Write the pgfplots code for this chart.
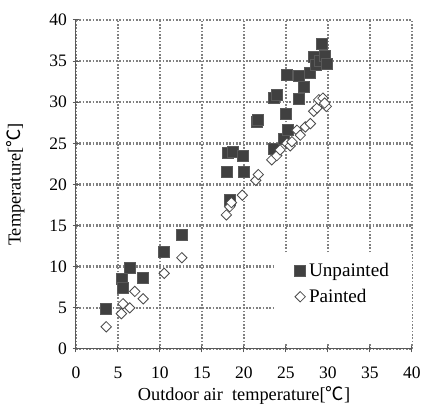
\documentclass[border=0pt]{standalone}
\usepackage{fontspec}
\setmainfont{Liberation Serif}
\newfontfamily\cjk{Noto Sans CJK JP}
\usepackage{pgfplots}
\pgfplotsset{compat=1.18}
\begin{document}
\begin{tikzpicture}
\useasboundingbox (-45.6pt,-33.6pt) rectangle (207pt,209.4pt);
\begin{axis}[
 scale only axis, width=201.6pt, height=197.4pt,
 xmin=0,xmax=40,ymin=0,ymax=40,
 xtick={0,5,...,40}, ytick={0,5,...,40},
 axis x line*=bottom, axis y line*=left,
 axis line style={draw=black!65, line width=0.6pt, -},
 tick align=center, major tick length=4pt,
 tick style={draw=black!65, line width=0.6pt},
 grid=major,
 major grid style={draw=black!50, line width=1.5pt, dash pattern=on 1pt off 1pt},
 ticklabel style={font=\fontsize{10.5}{12}\selectfont},
 xticklabel style={yshift=-5pt},
 /pgf/number format/assume math mode=true,
 xlabel={Outdoor air\ \ temperature[{\cjk ℃}]},
 ylabel={Temperature[{\cjk ℃}]},
 label style={font=\fontsize{11}{13}\selectfont},
 xlabel style={yshift=2pt},
 ylabel style={yshift=8pt},
 legend style={draw=none, fill=none, at={(axis cs:25.4,11.3)}, anchor=north west,
   font=\fontsize{11.5}{13}\selectfont, row sep=2pt},
 legend cell align=left,
 legend image code/.code={\draw[#1] plot coordinates {(0pt,0pt)};},
]
\fill[white] (axis cs:23.7,0.7) rectangle (axis cs:40.3,11.7);
\addplot[only marks, mark=square*, mark size=3.3pt, mark options={fill=black!75, draw=black!65, line width=0.3pt}] coordinates {
(3.6,4.9)(5.4,8.6)(5.6,7.4)(6.4,9.9)(8.0,8.7)(10.5,11.8)(12.6,13.9)
(17.9,21.5)(18.1,23.8)(18.7,24.0)(18.25,18.2)(19.8,23.5)(20.0,21.6)
(21.5,27.6)(21.6,27.9)(23.5,24.3)(23.5,30.5)(23.9,30.9)(24.7,25.6)(25.2,26.6)(25.0,28.6)
(25.1,33.3)(26.5,33.2)(26.5,30.4)(27.1,31.9)(27.8,33.6)(28.3,35.5)(28.6,34.5)(29.0,35.1)(29.6,35.7)(29.8,34.7)(29.25,37.1)
};
\addlegendentry{Unpainted}
\addplot[only marks, mark=square*, mark size=2.2pt, mark options={rotate=45, fill=white, draw=black!70, line width=0.5pt}] coordinates {
(3.6,2.7)(5.4,4.3)(5.6,5.5)(6.4,5.0)(7.0,7.0)(8.0,6.1)(10.5,9.2)(12.6,11.1)
(17.9,16.3)(18.3,17.3)(18.5,17.8)(19.8,18.7)(21.4,20.5)(21.7,21.2)
(23.3,23.0)(23.9,23.5)(24.3,24.2)(25.1,25.0)(25.5,24.7)(25.7,25.2)(26.3,26.6)(26.7,26.0)(27.3,27.0)(27.9,27.4)(28.3,28.9)(28.7,29.3)(28.9,30.3)(29.4,30.5)(29.8,29.5)(29.6,29.9)
};
\addlegendentry{Painted}
\end{axis}
\end{tikzpicture}
\end{document}
